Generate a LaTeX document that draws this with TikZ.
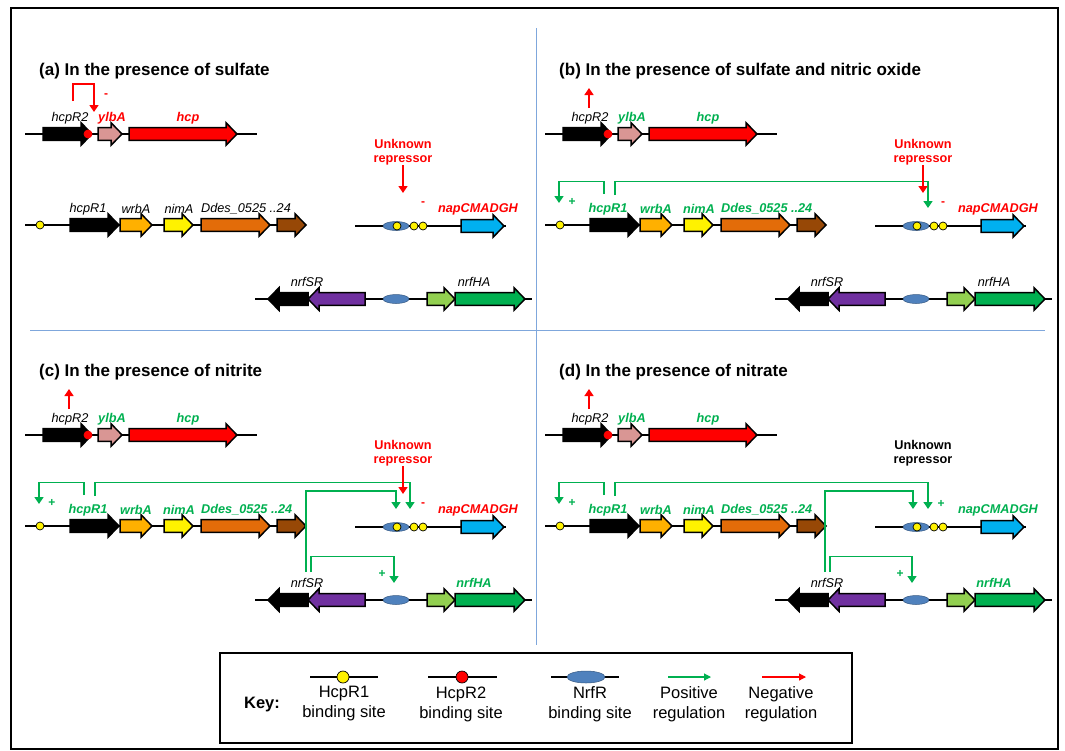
\documentclass[tikz,border=0pt]{standalone}
\usepackage{fontspec}
\setmainfont{Liberation Sans}
\usetikzlibrary{arrows.meta,shapes.geometric}
\definecolor{pinkg}{HTML}{D99694}
\definecolor{wrbacol}{HTML}{FFB000}
\definecolor{ddescol}{HTML}{E36C09}
\definecolor{browncol}{HTML}{974806}
\definecolor{napcol}{HTML}{00B0F0}
\definecolor{purplecol}{HTML}{7030A0}
\definecolor{lgreen}{HTML}{92D050}
\definecolor{greencol}{HTML}{00B050}
\definecolor{sitebl}{HTML}{4F81BD}
\definecolor{posgreen}{HTML}{00B050}
\definecolor{divblue}{HTML}{7FA7DC}
\tikzset{
  dna/.style={draw=black, line width=1.6pt},
  gene/.style={draw=black, line width=1.5pt},
  dot/.style={circle, draw=black, line width=0.7pt, inner sep=0pt, minimum size=8pt},
  nsite/.style={ellipse, draw=sitebl!70!black, line width=0.5pt, fill=sitebl, inner sep=0pt, minimum width=26pt, minimum height=9pt},
  title/.style={font=\fontsize{17}{19}\selectfont\bfseries, inner sep=0pt, anchor=west},
  glab/.style={font=\fontsize{12.7}{14}\selectfont\itshape, inner sep=0pt},
  gb/.style={font=\fontsize{12.7}{14}\selectfont\bfseries\itshape},
  unk/.style={font=\fontsize{12.7}{14.5}\selectfont\bfseries, align=center, inner sep=0pt},
  sign/.style={font=\fontsize{12}{14}\selectfont\bfseries, inner sep=0pt},
  posarr/.style={draw=posgreen, line width=1.4pt, -{Triangle[width=9pt,length=7pt]}},
  negarr/.style={draw=red, line width=1.4pt, -{Triangle[width=9pt,length=7pt]}},
  keytxt/.style={font=\fontsize{16.5}{20}\selectfont, align=center, inner sep=0pt},
  lylb/.style={}, lop/.style={}, lnap/.style={}, lunk/.style={}, lnrf/.style={}
}
\newcommand{\garR}[4]{\draw[gene,fill=#4] ({#1},{#3-6.3}) -- ({#2-11},{#3-6.3}) -- ({#2-11},{#3-11.3}) -- ({#2},{#3}) -- ({#2-11},{#3+11.3}) -- ({#2-11},{#3+6.3}) -- ({#1},{#3+6.3}) -- cycle;}
\newcommand{\garL}[4]{\draw[gene,fill=#4] ({#2},{#3-6.3}) -- ({#1+11},{#3-6.3}) -- ({#1+11},{#3-11.3}) -- ({#1},{#3}) -- ({#1+11},{#3+11.3}) -- ({#1+11},{#3+6.3}) -- ({#2},{#3+6.3}) -- cycle;}
\newcommand{\drawpanel}[2]{%
  \node[title] (#1-title) at (39,71) {#2};
  % hcp operon
  \draw[dna] (25,134) -- (257,134);
  \garR{43}{92}{134}{black}
  \garR{98}{122}{134}{pinkg}
  \garR{129}{237}{134}{red}
  \node[dot, fill=red, draw=red] (#1-R2site) at (88,134) {};
  \node[glab] (#1-hcpR2) at (70,118) {hcpR2};
  \node[glab, lylb] (#1-ylbA) at (112,118) {ylbA};
  \node[glab, lylb] (#1-hcp) at (188,118) {hcp};
  % hcpR1 operon
  \draw[dna] (25,225) -- (306,225);
  \garR{70}{119}{225}{black}
  \garR{120}{152}{225}{wrbacol}
  \garR{164}{193}{225}{yellow}
  \garR{201}{270}{225}{ddescol}
  \garR{277}{306}{225}{browncol}
  \node[dot, fill=yellow] (#1-R1site) at (40,225) {};
  \node[glab, lop] (#1-hcpR1) at (88,209) {hcpR1};
  \node[glab, lop] (#1-wrbA) at (136,209) {wrbA};
  \node[glab, lop] (#1-nimA) at (179,209) {nimA};
  \node[glab, lop, anchor=west] (#1-ddes) at (201,209) {Ddes\_0525 ..24};
  % nap operon
  \draw[dna] (355,226) -- (506,226);
  \node[nsite] (#1-napN) at (396,226) {};
  \node[dot, fill=yellow] (#1-napR1a) at (397,226) {};
  \node[dot, fill=yellow] (#1-napR1b) at (414,226) {};
  \node[dot, fill=yellow] (#1-napR1c) at (423,226) {};
  \garR{461}{504}{226}{napcol}
  \node[glab, lnap] (#1-nap) at (478,209) {napCMADGH};
  \node[unk, lunk] (#1-unk) at (403,152) {Unknown\\repressor};
  % nrf operons
  \draw[dna] (255,299) -- (532,299);
  \garL{268}{308}{299}{black}
  \garL{308}{365}{299}{purplecol}
  \node[nsite] (#1-nrfN) at (396,299) {};
  \garR{427}{455}{299}{lgreen}
  \garR{455}{525}{299}{greencol}
  \node[glab] (#1-nrfSR) at (307,282) {nrfSR};
  \node[glab, lnrf] (#1-nrfHA) at (474,282) {nrfHA};
}
\begin{document}
\begin{tikzpicture}[x=1pt,y=-1pt]
\useasboundingbox (0,0) rectangle (1065,750);
\draw[line width=1.5pt] (11,8) rectangle (1058,749);
\draw[divblue, line width=0.9pt] (536,28) -- (536,645);
\draw[divblue, line width=0.9pt] (30,330) -- (1045,330);

% (a)
\begin{scope}
  \tikzset{lylb/.style={gb,text=red}, lnap/.style={gb,text=red}, lunk/.style={text=red}}
  \drawpanel{a}{(a) In the presence of sulfate}
  \coordinate (a-negS) at (73,101);
  \coordinate (a-negE) at (94,112);
  \draw[negarr] (a-negS) |- (94,84) -- (a-negE);
  \node[sign, text=red] (a-m1) at (106,96) {-};
  \coordinate (a-unkE) at (403,193);
  \draw[negarr] (a-unk.south) -- (a-unkE);
  \node[sign, text=red] (a-m2) at (423,204) {-};
\end{scope}

% (b)
\begin{scope}[shift={(520,0)}]
  \tikzset{lylb/.style={gb,text=posgreen}, lop/.style={gb,text=posgreen}, lnap/.style={gb,text=red}, lunk/.style={text=red}}
  \drawpanel{b}{(b) In the presence of sulfate and nitric oxide}
  \coordinate (b-upS) at (69,108); \coordinate (b-upE) at (69,88);
  \draw[negarr] (b-upS) -- (b-upE);
  \coordinate (b-fbS) at (84,194); \coordinate (b-fbE) at (39,203);
  \draw[posarr] (b-fbS) -- (84,181.5) -- (39,181.5) -- (b-fbE);
  \node[sign, text=posgreen] (b-p1) at (52,202) {+};
  \coordinate (b-lS) at (95,195); \coordinate (b-lE) at (408,208);
  \draw[posarr] (b-lS) -- (95,181.5) -- (408,181.5) -- (b-lE);
  \coordinate (b-unkE) at (403,193);
  \draw[negarr] (b-unk.south) -- (b-unkE);
  \node[sign, text=red] (b-m2) at (423,204) {-};
\end{scope}

% (c)
\begin{scope}[shift={(0,301)}]
  \tikzset{lylb/.style={gb,text=posgreen}, lop/.style={gb,text=posgreen}, lnap/.style={gb,text=red}, lunk/.style={text=red}, lnrf/.style={gb,text=posgreen}}
  \drawpanel{c}{(c) In the presence of nitrite}
  \coordinate (c-upS) at (69,108); \coordinate (c-upE) at (69,88);
  \draw[negarr] (c-upS) -- (c-upE);
  \coordinate (c-fbS) at (84,194); \coordinate (c-fbE) at (39,203);
  \draw[posarr] (c-fbS) -- (84,181.5) -- (39,181.5) -- (c-fbE);
  \node[sign, text=posgreen] (c-p1) at (52,202) {+};
  \coordinate (c-lS) at (95,195); \coordinate (c-lE) at (410,208);
  \draw[posarr] (c-lS) -- (95,181.5) -- (410,181.5) -- (c-lE);
  \coordinate (c-nS) at (306,271); \coordinate (c-nE) at (396,208);
  \draw[posarr] (c-nS) -- (306,190) -- (396,190) -- (c-nE);
  \coordinate (c-n2S) at (311,271); \coordinate (c-n2E) at (394,282);
  \draw[posarr] (c-n2S) -- (311,255.5) -- (394,255.5) -- (c-n2E);
  \node[sign, text=posgreen] (c-p2) at (382,273) {+};
  \coordinate (c-unkE) at (403,193);
  \draw[negarr] (c-unk.south) -- (c-unkE);
  \node[sign, text=red] (c-m2) at (423,204) {-};
\end{scope}

% (d)
\begin{scope}[shift={(520,301)}]
  \tikzset{lylb/.style={gb,text=posgreen}, lop/.style={gb,text=posgreen}, lnap/.style={gb,text=posgreen}, lunk/.style={text=black}, lnrf/.style={gb,text=posgreen}}
  \drawpanel{d}{(d) In the presence of nitrate}
  \coordinate (d-upS) at (69,108); \coordinate (d-upE) at (69,88);
  \draw[negarr] (d-upS) -- (d-upE);
  \coordinate (d-fbS) at (84,194); \coordinate (d-fbE) at (39,203);
  \draw[posarr] (d-fbS) -- (84,181.5) -- (39,181.5) -- (d-fbE);
  \node[sign, text=posgreen] (d-p1) at (52,202) {+};
  \coordinate (d-lS) at (95,195); \coordinate (d-lE) at (408,208);
  \draw[posarr] (d-lS) -- (95,181.5) -- (408,181.5) -- (d-lE);
  \coordinate (d-nS) at (305,271); \coordinate (d-nE) at (393,208);
  \draw[posarr] (d-nS) -- (305,190) -- (393,190) -- (d-nE);
  \coordinate (d-n2S) at (310,271); \coordinate (d-n2E) at (392,282);
  \draw[posarr] (d-n2S) -- (310,255.5) -- (392,255.5) -- (d-n2E);
  \node[sign, text=posgreen] (d-p2) at (380,273) {+};
  \node[sign, text=posgreen] (d-p3) at (421,203) {+};
\end{scope}

% Key
\draw[line width=1.8pt, fill=white] (220,653) rectangle (852,743);
\node[keytxt, font=\fontsize{16.5}{20}\selectfont\bfseries] (key) at (262,705) {Key:};
\coordinate (k1a) at (310,677); \coordinate (k1b) at (378,677);
\draw[dna] (k1a) -- (k1b);
\node[dot, fill=yellow, minimum size=12pt] (k1) at (343,677) {};
\node[keytxt] (k1t) at (344,704) {HcpR1\\binding site};
\coordinate (k2a) at (428,677); \coordinate (k2b) at (497,677);
\draw[dna] (k2a) -- (k2b);
\node[dot, fill=red, minimum size=12pt] (k2) at (462,677) {};
\node[keytxt] (k2t) at (461,704) {HcpR2\\binding site};
\coordinate (k3a) at (551,677); \coordinate (k3b) at (619,677);
\draw[dna] (k3a) -- (k3b);
\node[nsite, minimum width=38pt, minimum height=12pt] (k3) at (586,677) {};
\node[keytxt] (k3t) at (590,704) {NrfR\\binding site};
\coordinate (k4a) at (668,677); \coordinate (k4b) at (711,677);
\draw[draw=posgreen, line width=1.1pt, -{Triangle[width=7pt,length=7pt]}] (k4a) -- (k4b);
\node[keytxt] (k4t) at (689,704) {Positive\\regulation};
\coordinate (k5a) at (762,677); \coordinate (k5b) at (806,677);
\draw[draw=red, line width=1.1pt, -{Triangle[width=7pt,length=7pt]}] (k5a) -- (k5b);
\node[keytxt] (k5t) at (781,704) {Negative\\regulation};
\end{tikzpicture}
\end{document}
